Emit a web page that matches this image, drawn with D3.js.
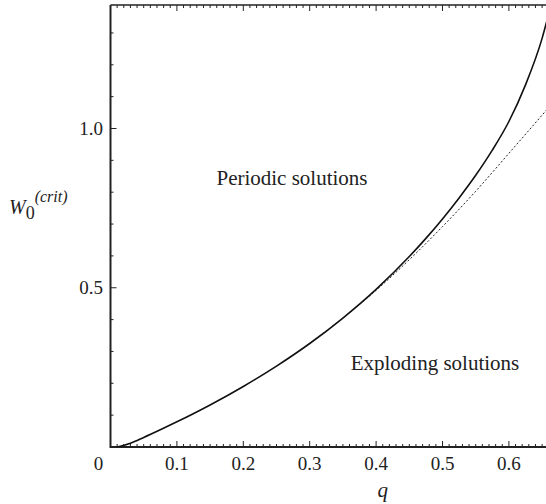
<!DOCTYPE html>
<html><head><meta charset="utf-8">
<script src="https://cdn.jsdelivr.net/npm/d3@7"></script>
<style>
body{margin:0;background:#fff;}
svg{display:block;}
</style></head>
<body><svg id="c" width="546" height="504"></svg>
<script>
// Data
const qSolid = [0.01, 0.03, 0.05, 0.075, 0.1, 0.15, 0.2, 0.25, 0.3, 0.35, 0.4, 0.45, 0.475, 0.5, 0.525, 0.55, 0.575, 0.6, 0.625, 0.65, 0.66];
const wSolid = [0.0, 0.012, 0.03, 0.054, 0.079, 0.132, 0.19, 0.254, 0.325, 0.405, 0.495, 0.598, 0.655, 0.716, 0.782, 0.853, 0.932, 1.022, 1.137, 1.283, 1.36];
const qDashed = [0.3, 0.35, 0.4, 0.45, 0.5, 0.55, 0.6, 0.65, 0.66];
const wDashed = [0.325, 0.405, 0.492, 0.588, 0.692, 0.803, 0.922, 1.042, 1.066];
const xTickLabels = ["0", "0.1", "0.2", "0.3", "0.4", "0.5", "0.6"];
const yTickLabels = ["0.5", "1.0"];
const regionLabels = ["Periodic solutions", "Exploding solutions"];

// pick an installed serif font by measuring
function pickFont(cands) {
  const ctx = document.createElement("canvas").getContext("2d");
  const s = "Periodic solutions 0.123 Wq";
  ctx.font = "40px monospace"; const wm = ctx.measureText(s).width;
  ctx.font = "40px sans-serif"; const ws = ctx.measureText(s).width;
  for (const c of cands) {
    ctx.font = `40px '${c}', monospace`; const a = ctx.measureText(s).width;
    ctx.font = `40px '${c}', sans-serif`; const b = ctx.measureText(s).width;
    if (a !== wm && b !== ws) return `'${c}'`;
  }
  return "serif";
}
const FONT = pickFont(["Liberation Serif", "Tinos", "Times New Roman", "Nimbus Roman", "Nimbus Roman No9 L", "FreeSerif", "Noto Serif", "DejaVu Serif", "Times"]) + ", serif";

const svg = d3.select("#c");
const x = d3.scaleLinear().domain([0, 0.1]).range([110.5, 176.9]);
const y = d3.scaleLinear().domain([0, 1]).range([447, 128.5]);
const xMax = x.invert(546), yMax = y.invert(5);

const ink = "#222";
// Frame lines
svg.append("line").attr("x1", x(0)).attr("x2", 546).attr("y1", y(0)).attr("y2", y(0)).attr("stroke", ink).attr("stroke-width", 2);
svg.append("line").attr("x1", x(0)).attr("x2", x(0)).attr("y1", y(0)+1).attr("y2", y(yMax)).attr("stroke", ink).attr("stroke-width", 2);
svg.append("line").attr("x1", x(0)).attr("x2", 546).attr("y1", y(yMax)).attr("y2", y(yMax)).attr("stroke", ink).attr("stroke-width", 1.5);

// x ticks bottom & top (minor 0.01, major 0.1)
d3.range(0, xMax, 0.01).forEach((v, i) => {
  const major = i % 10 === 0 && i > 0;
  const len = major ? 6 : 3;
  svg.append("line").attr("x1", x(v)).attr("x2", x(v)).attr("y1", y(0)).attr("y2", y(0) - len).attr("stroke", ink).attr("stroke-width", 1);
  svg.append("line").attr("x1", x(v)).attr("x2", x(v)).attr("y1", y(yMax)).attr("y2", y(yMax) + len).attr("stroke", ink).attr("stroke-width", 1);
});
// y ticks left (0.1 minor, 0.5 major)
d3.range(0.1, yMax, 0.1).forEach(v => {
  const major = Math.abs(v - 0.5) < 1e-6 || Math.abs(v - 1) < 1e-6;
  svg.append("line").attr("x1", x(0)).attr("x2", x(0) + (major ? 6 : 3)).attr("y1", y(v)).attr("y2", y(v)).attr("stroke", ink).attr("stroke-width", 1);
});

// tick labels
xTickLabels.forEach(t => {
  const v = +t;
  svg.append("text").attr("x", v === 0 ? x(0) - 12 : x(v)).attr("y", 470).attr("font-family", FONT)
    .attr("text-anchor", "middle").attr("font-size", 19).attr("fill", ink).text(t);
});
yTickLabels.forEach(t => {
  svg.append("text").attr("x", 103).attr("y", y(+t) + 6.5).attr("font-family", FONT)
    .attr("text-anchor", "end").attr("font-size", 19).attr("fill", ink).text(t);
});

// axis titles
svg.append("text").attr("x", x(0.41)).attr("y", 497).attr("text-anchor", "middle").attr("font-family", FONT)
  .attr("font-size", 21).attr("font-style", "italic").attr("fill", ink).text("q");
const yl = svg.append("text").attr("x", 9).attr("y", 214).attr("font-size", 20).attr("fill", ink).attr("font-family", FONT);
yl.append("tspan").attr("font-style", "italic").text("W");
yl.append("tspan").attr("dy", 5).attr("font-size", 18).text("0");
yl.append("tspan").attr("dy", -17).attr("font-size", 16).attr("font-style", "italic").text("(crit)");

// region labels
svg.append("text").attr("x", 292).attr("y", 185).attr("text-anchor", "middle").attr("font-family", FONT).attr("font-size", 21).attr("fill", ink).text(regionLabels[0]);
svg.append("text").attr("x", 435).attr("y", 370).attr("text-anchor", "middle").attr("font-family", FONT).attr("font-size", 21).attr("fill", ink).text(regionLabels[1]);

// curves
svg.append("clipPath").attr("id", "clp").append("rect")
  .attr("x", x(0)).attr("y", y(yMax)).attr("width", 546 - x(0)).attr("height", y(0) - y(yMax));
const line = d3.line().x(d => x(d[0])).y(d => y(d[1])).curve(d3.curveMonotoneX);
svg.append("path").datum(d3.zip(qDashed, wDashed)).attr("d", line).attr("clip-path", "url(#clp)")
  .attr("fill", "none").attr("stroke", ink).attr("stroke-width", 1).attr("stroke-dasharray", "2,2");
svg.append("path").datum(d3.zip(qSolid, wSolid)).attr("d", line).attr("clip-path", "url(#clp)")
  .attr("fill", "none").attr("stroke", "#111").attr("stroke-width", 1.6);
</script></body></html>
